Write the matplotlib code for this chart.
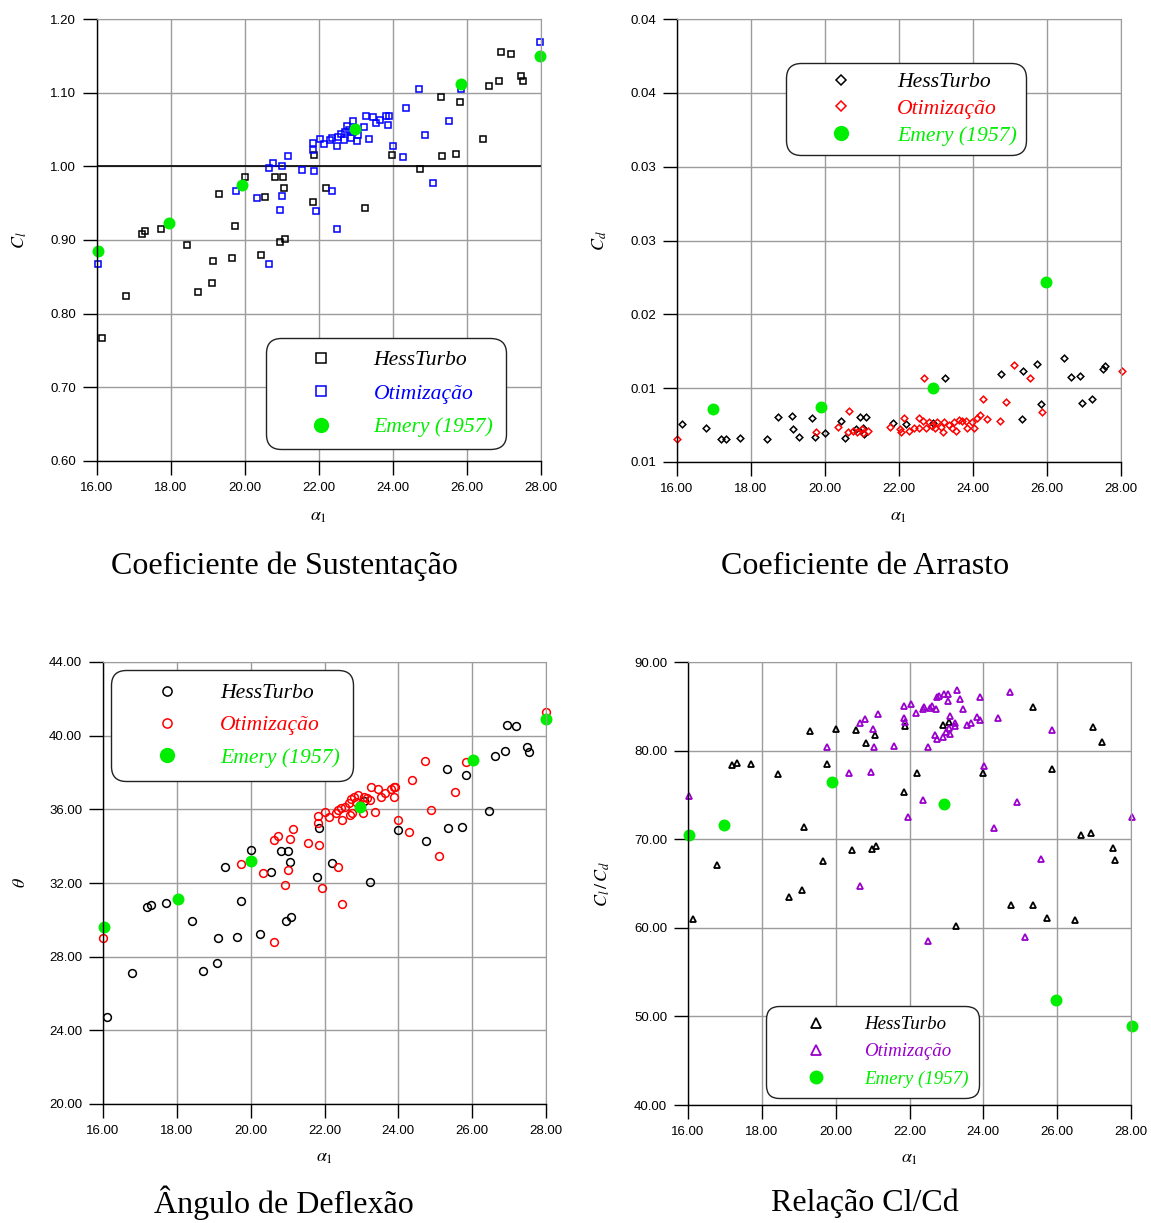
import matplotlib
matplotlib.use('Agg')
import matplotlib.pyplot as plt
from matplotlib.ticker import FormatStrFormatter

plt.rcParams['mathtext.fontset'] = 'stix'
plt.rcParams['font.family'] = ['Liberation Sans', 'DejaVu Sans']

# ---------------- data ----------------
x_ticks = [16, 18, 20, 22, 24, 26, 28]

# Panel 1: lift coefficient Cl
cl_hess_a = [26.92, 27.18, 27.47, 27.52, 26.86, 26.60, 25.31, 25.81, 26.44, 23.97, 25.32, 25.70, 24.73,
             21.86, 20.01, 20.82, 21.02, 21.06, 22.19, 19.31, 20.54, 21.83, 23.24, 19.74, 17.73, 17.31,
             17.21, 18.42, 21.08, 20.95, 19.14, 19.64, 20.42, 19.10, 18.74, 16.79, 16.14]
cl_hess = [1.155, 1.152, 1.122, 1.116, 1.116, 1.109, 1.094, 1.087, 1.037, 1.016, 1.014, 1.017, 0.997,
           1.016, 0.986, 0.986, 0.986, 0.971, 0.971, 0.963, 0.958, 0.952, 0.943, 0.919, 0.915, 0.912,
           0.908, 0.893, 0.902, 0.897, 0.872, 0.876, 0.879, 0.841, 0.830, 0.824, 0.767]
cl_opt_a = [27.97, 25.83, 24.70, 24.36, 25.52, 24.87, 24.00, 24.26, 25.09, 23.89, 23.80, 23.65, 23.45,
            23.26, 23.54, 23.87, 23.22, 22.92, 22.75, 22.59, 22.70, 22.82, 22.93, 23.06, 23.03, 23.35,
            22.68, 22.50, 22.34, 22.30, 22.14, 22.02, 21.83, 21.84, 22.48, 22.86, 21.15, 20.76, 21.01,
            20.64, 21.55, 21.87, 22.35, 19.76, 20.33, 21.01, 20.95, 21.93, 22.48, 16.03, 20.65]
cl_opt = [1.169, 1.105, 1.105, 1.079, 1.061, 1.042, 1.028, 1.013, 0.977, 1.069, 1.068, 1.063, 1.067,
          1.069, 1.059, 1.056, 1.053, 1.061, 1.055, 1.044, 1.047, 1.049, 1.047, 1.043, 1.034, 1.037,
          1.036, 1.040, 1.038, 1.036, 1.030, 1.037, 1.032, 1.022, 1.027, 1.039, 1.014, 1.004, 1.000,
          0.998, 0.995, 0.993, 0.967, 0.967, 0.957, 0.960, 0.941, 0.940, 0.915, 0.867, 0.868]
cl_emery_a = [16.03, 17.95, 19.91, 22.98, 25.85, 27.97]
cl_emery = [0.885, 0.923, 0.974, 1.051, 1.112, 1.150]

# Panel 2: drag coefficient Cd
cd_hess_a = [16.13, 16.78, 17.19, 17.32, 17.71, 18.42, 18.74, 19.10, 19.14, 19.31, 19.64, 19.74, 20.01,
             20.42, 20.55, 20.83, 20.95, 21.10, 21.02, 21.06, 21.85, 22.19, 22.91, 23.25, 24.75, 25.34,
             25.72, 25.33, 25.84, 26.47, 26.64, 26.89, 26.95, 27.22, 27.51, 27.58]
cd_hess = [0.01111, 0.01073, 0.00989, 0.00989, 0.00998, 0.00987, 0.01168, 0.01171, 0.01065, 0.01006,
           0.01155, 0.01003, 0.01036, 0.01136, 0.00995, 0.01068, 0.01168, 0.01168, 0.01079, 0.01025,
           0.01117, 0.01109, 0.01114, 0.01485, 0.01515, 0.01542, 0.01599, 0.01147, 0.01274, 0.01648,
           0.01491, 0.01496, 0.01277, 0.01310, 0.01553, 0.01578]
cd_opt_a = [16.01, 19.77, 20.34, 20.66, 20.63, 20.76, 20.86, 20.99, 21.04, 21.17, 21.75, 22.02, 22.05,
            22.13, 22.27, 22.41, 22.53, 22.55, 22.66, 22.68, 22.73, 22.82, 22.89, 22.98, 23.04, 23.14,
            23.18, 23.22, 23.36, 23.43, 23.49, 23.54, 23.61, 23.71, 23.80, 23.83, 23.98, 24.03, 24.12,
            24.18, 24.28, 24.38, 24.73, 24.89, 25.12, 25.55, 25.86, 28.02]
cd_opt = [0.00989, 0.01046, 0.01082, 0.01214, 0.01044, 0.01052, 0.01046, 0.01066, 0.01038, 0.01052,
          0.01084, 0.01068, 0.01041, 0.01155, 0.01052, 0.01074, 0.01160, 0.01074, 0.01133, 0.01481,
          0.01074, 0.01128, 0.01095, 0.01074, 0.01123, 0.01087, 0.01046, 0.01128, 0.01101, 0.01074,
          0.01128, 0.01052, 0.01141, 0.01133, 0.01133, 0.01074, 0.01128, 0.01074, 0.01160, 0.01182,
          0.01310, 0.01147, 0.01131, 0.01288, 0.01591, 0.01483, 0.01209, 0.01539]
cd_emery_a = [16.96, 19.89, 22.93, 25.96]
cd_emery = [0.01231, 0.01249, 0.01404, 0.02260]
cd_ticks = [0.008, 0.014, 0.020, 0.026, 0.032, 0.038, 0.044]

# Panel 3: deflection angle theta
th_hess_a = [26.94, 27.20, 27.48, 27.55, 26.88, 26.62, 25.31, 25.82, 26.45, 25.34, 25.72, 23.98, 24.74,
             21.86, 20.81, 21.02, 20.00, 21.06, 22.19, 19.30, 20.54, 21.81, 23.24, 23.06, 19.74, 17.70,
             17.31, 17.18, 18.42, 21.09, 20.96, 20.26, 19.12, 19.63, 19.08, 18.72, 16.78, 16.12]
th_hess = [40.60, 40.55, 39.40, 39.13, 39.17, 38.91, 38.17, 37.86, 35.89, 34.97, 35.06, 34.90, 34.30,
           35.01, 33.76, 33.76, 33.81, 33.16, 33.07, 32.87, 32.62, 32.31, 32.06, 36.47, 31.01, 30.90,
           30.82, 30.68, 29.96, 30.16, 29.96, 29.25, 29.03, 29.09, 27.68, 27.23, 27.10, 24.74]
th_opt_a = [28.00, 24.71, 25.82, 24.37, 25.53, 24.88, 24.00, 24.28, 25.10, 23.88, 23.92, 23.79, 23.88,
            23.63, 23.53, 23.44, 23.27, 23.24, 23.16, 23.07, 22.92, 22.80, 22.71, 22.84, 22.96, 23.05,
            23.36, 22.67, 22.55, 22.46, 22.36, 22.31, 22.13, 22.01, 21.83, 21.82, 22.48, 22.69, 22.74,
            21.56, 21.86, 21.14, 21.06, 22.36, 20.74, 20.63, 19.74, 20.33, 21.00, 20.94, 21.92, 22.48,
            20.64, 16.00]
th_opt = [41.27, 38.63, 38.59, 37.58, 36.93, 35.97, 35.41, 34.77, 33.48, 37.20, 37.20, 37.09, 36.65,
          36.87, 36.69, 37.12, 37.20, 36.51, 36.62, 36.65, 36.80, 36.65, 36.58, 36.42, 36.25, 35.79,
          35.87, 36.33, 36.15, 36.06, 35.97, 35.82, 35.60, 35.86, 35.66, 35.28, 35.42, 35.71, 35.82,
          34.16, 34.08, 34.95, 34.37, 32.85, 34.55, 34.32, 33.02, 32.56, 32.69, 31.89, 31.75, 30.86,
          28.78, 29.00]
th_emery_a = [16.03, 18.03, 20.00, 22.97, 26.01, 28.00]
th_emery = [29.60, 31.12, 33.20, 36.11, 38.66, 40.91]

# Panel 4: Cl/Cd ratio
lr_hess_a = [19.30, 20.02, 20.55, 21.07, 20.83, 21.89, 23.08, 22.91, 25.34, 26.96, 27.22, 17.20, 17.32,
             17.72, 18.43, 19.76, 22.20, 24.00, 25.85, 21.85, 19.15, 26.64, 26.91, 27.51, 27.57, 20.43,
             20.98, 21.10, 19.65, 16.79, 16.13, 18.74, 19.10, 23.26, 24.76, 25.35, 25.73, 26.48]
lr_hess = [82.18, 82.44, 82.36, 81.76, 80.86, 82.74, 83.26, 82.86, 84.89, 82.63, 80.97, 78.34, 78.63,
           78.45, 77.33, 78.45, 77.44, 77.51, 77.96, 75.36, 71.38, 70.47, 70.66, 68.97, 67.69, 68.81,
           68.89, 69.23, 67.57, 67.05, 60.96, 63.51, 64.27, 60.17, 62.54, 62.61, 61.11, 60.84]
lr_opt_a = [16.03, 19.76, 20.35, 20.96, 20.66, 20.79, 21.16, 21.02, 21.04, 21.58, 21.85, 21.84, 21.89,
            22.05, 22.17, 22.36, 22.38, 22.55, 22.62, 22.72, 22.51, 22.74, 22.81, 22.94, 23.05, 23.29,
            23.38, 23.46, 23.04, 23.90, 24.73, 23.10, 23.24, 23.24, 23.06, 22.98, 23.10, 22.68, 22.74,
            22.90, 23.56, 23.66, 23.83, 23.92, 24.39, 24.03, 24.90, 24.30, 25.86, 28.02, 25.55, 22.37,
            21.95, 20.66, 22.50, 25.13]
lr_opt = [74.84, 80.44, 77.44, 77.55, 83.08, 83.60, 84.10, 82.44, 80.41, 80.49, 85.07, 83.71, 83.26,
          85.30, 84.24, 84.70, 84.96, 84.84, 85.07, 84.66, 80.44, 86.08, 86.16, 86.39, 86.35, 86.81,
          85.82, 84.66, 85.60, 86.01, 86.61, 83.87, 83.15, 82.74, 82.58, 82.13, 81.84, 81.76, 81.27,
          81.50, 82.89, 83.15, 83.76, 83.46, 83.71, 78.23, 74.17, 71.30, 82.29, 72.47, 67.73, 74.46,
          72.54, 64.68, 58.51, 58.96]
lr_emery_a = [16.03, 16.98, 19.90, 22.93, 25.96, 28.03]
lr_emery = [70.51, 71.60, 76.49, 73.97, 51.85, 48.95]

series_labels = ['HessTurbo', 'Otimização', 'Emery (1957)']
captions = ['Coeficiente de Sustentação', 'Coeficiente de Arrasto',
            'Ângulo de Deflexão', 'Relação Cl/Cd']

# ---------------- figure ----------------
W, H = 1151, 1223
fig = plt.figure(figsize=(W / 100, H / 100), dpi=100)

GREEN = '#00ee00'
GRID = '#9c9c9c'


def ax_at(x0, y0, x1, y1):
    return fig.add_axes([x0 / W, 1 - y1 / H, (x1 - x0) / W, (y1 - y0) / H])


def style(ax, ylim, yticks, xlab, ylab, ylab_x, xlab_y):
    ax.set_xlim(16, 28)
    ax.set_xticks(x_ticks)
    ax.xaxis.set_major_formatter(FormatStrFormatter('%.2f'))
    ax.set_ylim(*ylim)
    ax.set_yticks(yticks)
    ax.yaxis.set_major_formatter(FormatStrFormatter('%.2f'))
    ax.grid(True, color=GRID, lw=1)
    ax.set_axisbelow(True)
    for s in ['top', 'right']:
        ax.spines[s].set_color(GRID)
    for s in ['left', 'bottom']:
        ax.spines[s].set_color('black')
        ax.spines[s].set_linewidth(1)
    ax.tick_params(direction='out', length=10, width=1, labelsize=9.5, pad=5,
                   top=False, right=False)
    ax.set_xlabel(xlab, fontsize=13)
    ax.set_ylabel(ylab, fontsize=13)
    ax.xaxis.set_label_coords(0.5, xlab_y)
    ax.yaxis.set_label_coords(ylab_x, 0.5)
    ax.xaxis.label.set_va('center')
    ax.yaxis.label.set_va('center')


def draw(ax, data, marker, colors, ms, mew, green_ms, leg):
    (ha, hv), (oa, ov), (ea, ev) = data
    ax.plot(ha, hv, ls='none', marker=marker, ms=ms, mfc='none', mec=colors[0], mew=mew,
            clip_on=False, label=series_labels[0])
    ax.plot(oa, ov, ls='none', marker=marker, ms=ms, mfc='none', mec=colors[1], mew=mew,
            clip_on=False, label=series_labels[1])
    ax.plot(ea, ev, ls='none', marker='o', ms=green_ms, mfc=GREEN, mec=GREEN, mew=0,
            clip_on=False, label=series_labels[2])
    anchor, fs, hl, htp, ls_, bp, leg_ms, leg_green = leg
    lg = ax.legend(loc='upper left', bbox_to_anchor=anchor, borderaxespad=0,
                   prop={'family': 'Liberation Serif', 'style': 'italic', 'size': fs},
                   handlelength=hl, handletextpad=htp, labelspacing=ls_, borderpad=bp,
                   numpoints=1, fancybox=True, framealpha=1, edgecolor='#222222')
    lg.get_frame().set_boxstyle('round', pad=0, rounding_size=0.7)
    lg.get_frame().set_linewidth(1.0)
    for t, c in zip(lg.get_texts(), [colors[0], colors[1], GREEN]):
        t.set_color(c)
    hs = lg.legend_handles
    hs[0].set_markersize(leg_ms)
    hs[1].set_markersize(leg_ms)
    hs[2].set_markersize(leg_green)


ax1 = ax_at(97, 19, 541, 461)
style(ax1, (0.6, 1.2), [0.6, 0.7, 0.8, 0.9, 1.0, 1.1, 1.2], r'$\alpha_1$', r'$C_l$', -0.173, -0.125)
ax1.axhline(1.0, color='black', lw=1.2, zorder=1.5)
draw(ax1, [(cl_hess_a, cl_hess), (cl_opt_a, cl_opt), (cl_emery_a, cl_emery)], 's',
     ['black', '#0000ff'], 5.0, 1.1, 8.6,
     ((0.381, 0.278), 15.6, 3.95, 0.45, 0.61, 0.56, 6.8, 11))

ax2 = ax_at(677, 19, 1121, 462)
style(ax2, (0.008, 0.044), cd_ticks, r'$\alpha_1$', r'$C_d$', -0.173, -0.122)
draw(ax2, [(cd_hess_a, cd_hess), (cd_opt_a, cd_opt), (cd_emery_a, cd_emery)], 'D',
     ['black', '#ff0000'], 3.4, 1.1, 8.6,
     ((0.2455, 0.9007), 15.6, 4.25, 0.45, 0.30, 0.42, 5.0, 11))

ax3 = ax_at(103, 662, 546, 1104)
style(ax3, (20, 44), [20, 24, 28, 32, 36, 40, 44], r'$\alpha_1$', r'$\theta$', -0.187, -0.122)
draw(ax3, [(th_hess_a, th_hess), (th_opt_a, th_opt), (th_emery_a, th_emery)], 'o',
     ['black', '#ff0000'], 5.6, 1.1, 8.6,
     ((0.018, 0.982), 15.6, 4.0, 0.45, 0.56, 0.6, 6.6, 11))

ax4 = ax_at(688, 662, 1131, 1105)
style(ax4, (40, 90), [40, 50, 60, 70, 80, 90], r'$\alpha_1$', r'$C_l\,/\,C_d$', -0.192, -0.12)
draw(ax4, [(lr_hess_a, lr_hess), (lr_opt_a, lr_opt), (lr_emery_a, lr_emery)], '^',
     ['black', '#9900cc'], 3.8, 1.3, 8.6,
     ((0.176, 0.2235), 13.6, 4.2, 0.45, 0.52, 0.54, 6.5, 10))

cap_pos = [(284, 566), (865, 566), (284, 1203), (865, 1203)]
for (cx, cy), txt in zip(cap_pos, captions):
    fig.text(cx / W, 1 - cy / H, txt, ha='center', va='center',
             family='Liberation Serif', fontsize=23)

fig.savefig('out.png', dpi=100)
